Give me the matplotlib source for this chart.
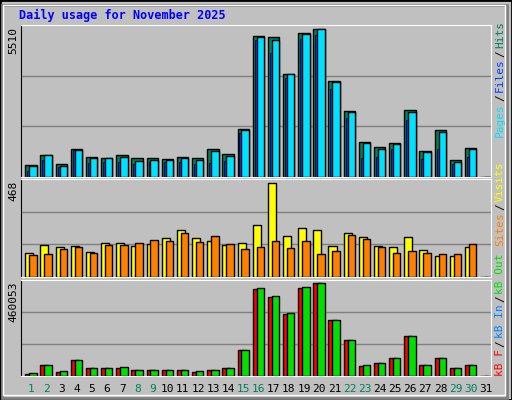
import matplotlib
matplotlib.use("Agg")
import matplotlib.pyplot as plt
from matplotlib.patches import Rectangle

days = list(range(1, 32))
hits  = [436,810,474,1035,735,686,810,698,698,661,735,698,1035,848,1783,5261,5223,3840,5373,5510,3578,2456,1296,1109,1259,2493,960,1745,623,1072,0]
files = [399,810,399,997,698,698,735,586,623,623,698,623,960,773,1745,5223,5111,3840,5336,5510,3540,2418,1259,1035,1222,2418,922,1670,548,1035,0]
pages = [212,623,361,997,511,548,548,474,548,548,548,474,511,586,1633,5111,4625,3690,5148,5298,3278,2194,698,735,1035,2119,661,1035,474,735,0]
visits = [118,159,149,154,123,169,169,154,164,194,235,194,179,159,169,260,468,204,245,235,154,220,199,154,149,199,133,103,103,149,0]
sites  = [108,113,139,149,118,159,159,169,184,179,220,174,204,164,139,149,179,144,179,113,128,210,189,149,118,128,118,113,113,164,0]
kbout = [11700,51860,21750,76950,36800,36800,41820,26770,26770,26770,26770,21750,26770,36800,127140,433280,393130,312830,438300,460053,277700,177330,51860,61900,86990,197400,51860,86990,36800,51860,0]
kbf   = [9500,51860,20000,76950,36800,36800,36800,26770,26770,26770,26770,20000,26770,36800,127140,428000,388000,307000,433000,460053,277700,177330,48000,61900,86990,197400,51860,86990,36800,51860,0]
kbin  = [0]*31
weekend = [1,2,8,9,15,16,22,23,29,30]
title = "Daily usage for November 2025"

BG = "#c0c0c0"
W, H = 512, 400
fig = plt.figure(figsize=(5.12, 4.0), dpi=100, facecolor=BG)
mono = "DejaVu Sans Mono"

def fr(x0, y0, x1, y1):
    return [x0 / W, 1 - y1 / H, (x1 - x0) / W, (y1 - y0) / H]

fig.patches.append(Rectangle((0, 0), 1, 1, transform=fig.transFigure, fill=False, ec="black", lw=2))
fig.patches.append(Rectangle((2/W, 2/H), 1-7/W, 1-7/H, transform=fig.transFigure, fill=False, ec="#808080", lw=2))
fig.patches.append(Rectangle((3/W, 5/H), 1-10/W, 1-10/H, transform=fig.transFigure, fill=False, ec="white", lw=1))

def make_ax(y0, y1, top):
    ax = fig.add_axes(fr(20.7, y0, 490.7, y1))
    ax.set_facecolor(BG)
    ax.set_xlim(0, 31)
    ax.set_ylim(0, top)
    ax.set_xticks([]); ax.set_yticks([])
    for t in (top / 3, 2 * top / 3):
        ax.axhline(t, color="#808080", lw=1, zorder=0)
    ax.spines["left"].set_color("black")
    ax.spines["bottom"].set_color("white")
    ax.spines["top"].set_color("white")
    ax.spines["right"].set_color("white")
    return ax

x = [d - 1 for d in days]
ec = dict(edgecolor="black", linewidth=1, align="edge")

ax1 = make_ax(25, 176.7, 5671)
ax1.bar([i + 0.30 for i in x], hits, 0.75, color="#00805c", zorder=2, **ec)
ax1.bar([i + 0.43 for i in x], pages, 0.14, color="#0040ff", zorder=3, edgecolor="black", linewidth=0.5, align="edge")
ax1.bar([i + 0.56 for i in x], files, 0.49, color="#00e0ff", zorder=4, **ec)

ax2 = make_ax(179, 276.7, 490)
ax2.bar([i + 0.30 for i in x], visits, 0.53, color="#ffff00", zorder=2, **ec)
ax2.bar([i + 0.56 for i in x], sites, 0.49, color="#ff8000", zorder=3, **ec)

ax3 = make_ax(279.5, 375.7, 476600)
ax3.bar([i + 0.30 for i in x], kbf, 0.53, color="#ff0000", zorder=2, **ec)
ax3.bar([i + 0.43 for i in x], kbin, 0.14, color="#0080ff", zorder=3, edgecolor="black", linewidth=0.5, align="edge")
ax3.bar([i + 0.56 for i in x], kbout, 0.49, color="#00e000", zorder=4, **ec)

fig.text(19 / W, 1 - 15 / H, title, color="#0000ff", fontsize=8.5, fontweight="bold",
         family=mono, va="center", ha="left")

for ypix, lab in ((27, "5510"), (181, "468"), (282, "460053")):
    fig.text(13 / W, 1 - ypix / H, lab, rotation=90, fontsize=8, family=mono,
             ha="center", va="top", color="black")

for d in days:
    fig.text((20.7 + (d - 1) * 15.16 + 10.5) / W, 1 - 389 / H, str(d), fontsize=8,
             family=mono, ha="center", va="center",
             color="#00805c" if d in weekend else "black")

fig.canvas.draw()
r = fig.canvas.get_renderer()
def stack(ybottom_pix, parts):
    y = ybottom_pix
    for txt, col in parts:
        t = fig.text(500 / W, 1 - y / H, txt, rotation=90, fontsize=8, family=mono,
                     color=col, ha="center", va="bottom")
        bb = t.get_window_extent(r)
        y -= bb.height + 2

stack(137, [("Pages", "#00e0ff"), ("/", "black"), ("Files", "#0040ff"), ("/", "black"), ("Hits", "#00805c")])
stack(246, [("Sites", "#ff8000"), ("/", "black"), ("Visits", "#ffff00")])
stack(376, [("kB F", "#ff0000"), ("/", "black"), ("kB In", "#0080ff"), ("/", "black"), ("kB Out", "#00e000")])

fig.savefig("out.png", dpi=100, facecolor=BG)
